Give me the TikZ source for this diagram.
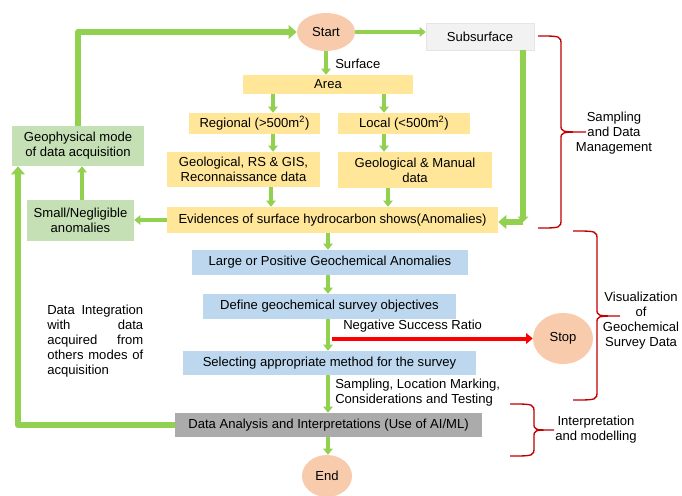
\documentclass[tikz,border=0pt]{standalone}
\usepackage{fontspec}
\setmainfont{Liberation Sans}
\usetikzlibrary{arrows.meta,shapes.geometric,calc}
\definecolor{garr}{HTML}{92D050}
\definecolor{yel}{HTML}{FFE699}
\definecolor{grn}{HTML}{C5E0B4}
\definecolor{blu}{HTML}{BDD7EE}
\definecolor{gry}{HTML}{ABABAB}
\definecolor{lgry}{HTML}{F2F2F2}
\definecolor{pch}{HTML}{F8CBAD}
\definecolor{brc}{HTML}{C00000}
\begin{document}
\begin{tikzpicture}[x=0.75pt,y=-0.75pt,
  font=\fontsize{9.8pt}{11.3pt}\selectfont,
  sz/.style 2 args={minimum width=#1*0.75pt, minimum height=#2*0.75pt},
  box/.style={rectangle, inner sep=0pt, align=center},
  ybox/.style={box, fill=yel},
  gbox/.style={box, fill=grn},
  bbox/.style={box, fill=blu},
  oval/.style={ellipse, inner sep=0pt, fill=pch},
  ga/.style={draw=garr, line width=2.6pt, -{Triangle[width=7pt,length=4.5pt]}},
  gthick/.style={draw=garr, line width=4.5pt, line join=round},
  gthickarr/.style={gthick, -{Triangle[width=10pt,length=6pt]}},
  ra/.style={draw=red, line width=3pt, -{Triangle[width=8pt,length=5pt]}},
  rb/.style={draw=brc, line width=1pt},
  lbl/.style={inner sep=0pt, align=center}
]
\useasboundingbox (0,0) rectangle (682,496);

% nodes
\node[oval, sz={58}{38}] (start) at (326,32) {Start};
\node[box, fill=lgry, draw=black!10, sz={108}{27}] (sub) at (480,36.5) {Subsurface};
\node[ybox, sz={170}{19}] (area) at (328,84.5) {Area};
\node[ybox, sz={131}{21}] (reg) at (254.5,123.5) {Regional (>500m\textsuperscript{2})};
\node[ybox, sz={132}{21}] (loc) at (404,123.5) {Local (<500m\textsuperscript{2})};
\node[ybox, sz={153}{35}] (geo) at (243.5,169.5) {Geological, RS \& GIS,\\Reconnaissance data};
\node[ybox, sz={154}{36}] (gm) at (415,170) {Geological \& Manual\\data};
\node[ybox, sz={331}{26}] (evid) at (332.5,220) {Evidences of surface hydrocarbon shows(Anomalies)};
\node[gbox, sz={107}{41}] (small) at (80.5,220.5) {Small/Negligible\\anomalies};
\node[gbox, sz={132}{40}] (geoph) at (78,146) {Geophysical mode\\of data acquisition};
\node[bbox, sz={276}{25}] (large) at (330,262.5) {Large or Positive Geochemical Anomalies};
\node[bbox, sz={253}{25}] (define) at (329.5,306.5) {Define geochemical survey objectives};
\node[bbox, sz={293}{24}] (select) at (329.5,363) {Selecting appropriate method for the survey};
\node[box, fill=gry, sz={307}{24}] (data) at (328.5,425) {Data Analysis and Interpretations (Use of AI/ML)};
\node[oval, sz={60}{51}] (stop) at (563,338.5) {Stop};
\node[oval, sz={50}{42}] (end) at (327,476) {End};

% labels
\node[lbl, anchor=west] (surf) at (335,64) {Surface};
\node[lbl, anchor=west] (neg) at (343,326) {Negative Success Ratio};
\node[lbl, anchor=west, align=left] (samp) at (335,392.5) {Sampling, Location Marking,\\Considerations and Testing};
\node[lbl, anchor=west, align=left] (integ) at (47,341) {\makebox[72pt][s]{Data Integration}\\\makebox[72pt][s]{with data}\\\makebox[72pt][s]{acquired from}\\\makebox[72pt][s]{others modes of}\\acquisition};
\node[lbl] (t1) at (614,133) {Sampling\\and Data\\Management};
\node[lbl] (t2) at (641,321) {Visualization\\of\\Geochemical\\Survey Data};
\node[lbl] (t3) at (596,430) {Interpretation\\and modelling};

% connectors
\draw[ga] (start.south) -- (start.south |- area.north);
\draw[ga] (start.east) -- (start.east -| sub.west);
\draw[ga] (273,0 |- area.south) -- (273,0 |- reg.north);
\draw[ga] (384,0 |- area.south) -- (384,0 |- loc.north);
\draw[ga] (273,0 |- reg.south) -- (273,0 |- geo.north);
\draw[ga] (384,0 |- loc.south) -- (384,0 |- gm.north);
\draw[ga] (271,0 |- geo.south) -- (271,0 |- evid.north);
\draw[ga] (388,0 |- gm.south) -- (388,0 |- evid.north);
\coordinate (sc) at (523,222);
\draw[gthick, -{Triangle[width=8pt,length=4pt]}] (523,0 |- sub.south) -- (sc);
\draw[gthickarr] (sc) -- (sc -| evid.east);
\draw[ga] (evid.west) -- (evid.west -| small.east);
\draw[ga] (82,0 |- small.north) -- (82,0 |- geoph.south);
\draw[gthickarr] (78,0 |- geoph.north) |- (start.west);
\draw[gthickarr] (data.west) -| (18,0 |- geoph.south);
\draw[ga] (328,0 |- evid.south) -- (328,0 |- large.north);
\draw[ga] (328,0 |- large.south) -- (328,0 |- define.north);
\draw[ga] (328,0 |- define.south) -- (328,0 |- select.north);
\draw[ga] (328,0 |- select.south) -- (328,0 |- data.north);
\draw[ga] (328,0 |- data.south) -- (328,0 |- end.north);
\draw[ra] (332,0 |- stop.west) -- (stop.west);

% braces
\newcommand\mybrace[6]{%
  \draw[rb] (#1,#4) .. controls (#2,#4) .. (#2,#4+9) -- (#2,#5-7)
    .. controls (#2,#5) .. (#3,#5) .. controls (#2,#5) .. (#2,#5+7)
    -- (#2,#6-9) .. controls (#2,#6) .. (#1,#6);}
\mybrace{538}{561}{586}{36}{132}{228}
\mybrace{573}{597}{620}{231}{316}{400}
\mybrace{510}{534}{554}{404}{430}{456}
\end{tikzpicture}
\end{document}
